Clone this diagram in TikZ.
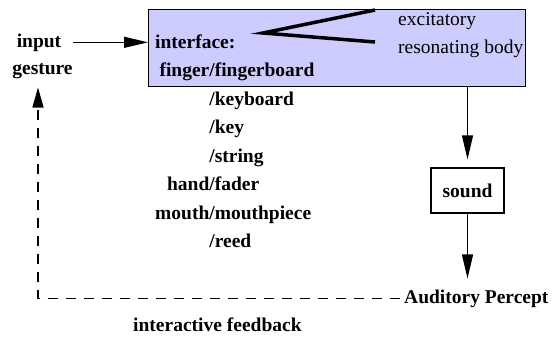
\documentclass[tikz,border=0pt]{standalone}
\usepackage{fontspec}
\setmainfont{LiberationSerif}[Extension=.ttf, UprightFont=*-Regular, BoldFont=*-Bold]
\usetikzlibrary{positioning,arrows.meta,calc}
\definecolor{lav}{RGB}{204,204,255}
\tikzset{
  txt/.style={font=\fontsize{19.5}{28.5}\selectfont\bfseries, inner sep=0pt},
  rm/.style={font=\fontsize{19.5}{28}\selectfont, inner sep=0pt},
  blk/.style={draw, line width=1pt, inner sep=0pt},
  arr/.style={-{Triangle[length=24pt,width=11pt]}, line width=1.2pt},
  fb/.style={-{Triangle[length=20pt,width=11pt]}, line width=1.1pt, dash pattern=on 10pt off 8pt},
}
\begin{document}
\begin{tikzpicture}[x=1pt,y=-1pt]
\useasboundingbox (0,0) rectangle (553,338);
\node[blk, fill=lav, minimum width=376.5pt, minimum height=77pt] (iface) at (336.75,47.5) {};
\draw[line width=3.5pt] (375,10) -- (263,33) -- (375,42);
\node[rm, anchor=base west] (exc) at (398,25) {excitatory};
\node[rm, anchor=base west] (res) at (398,53) {resonating body};
\node[txt, anchor=base west] (list) at (155,48) {\begin{tabular}[t]{@{}r@{}l@{}}
  \multicolumn{2}{@{}l@{}}{interface:}\\
  finger&/fingerboard\\
  &/keyboard\\
  &/key\\
  &/string\\
  hand&/fader\\
  mouth&/mouthpiece\\
  &/reed
\end{tabular}};
\node[txt, anchor=base] (inp) at (39,47) {input};
\node[txt, anchor=base] (gest) at (42.5,74) {gesture};
\draw[arr] (inp -| gest.east) -- (inp -| iface.west);
\node[blk, txt, line width=1.2pt, minimum width=73pt, minimum height=45pt] (snd) at (467.5,190.5) {sound};
\draw[arr, shorten >=8pt] (iface.south -| snd) -- (snd.north);
\node[txt, anchor=base west, inner xsep=4pt, outer ysep=11pt] (audit) at (400,303) {Auditory Percept};
\draw[arr] (snd.south) -- (snd |- audit.north);
\coordinate (fbtip) at ($(gest.south)+(-4.5,9)$);
\draw[fb] (audit.west) -| (fbtip);
\node[txt, anchor=base west] (fblab) at (133,331) {interactive feedback};
\end{tikzpicture}
\end{document}
